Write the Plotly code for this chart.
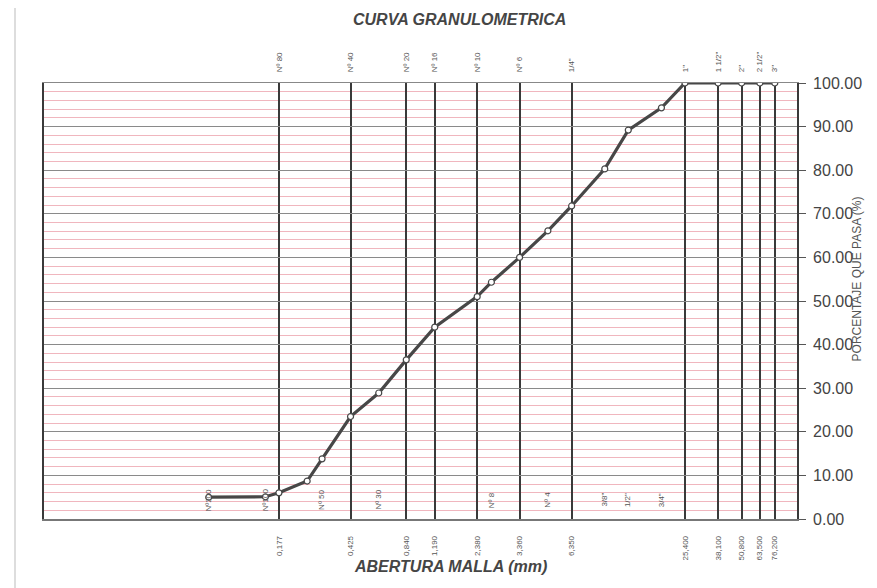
import math
import plotly.graph_objects as go

# ---- data ----
sizes_mm = [0.075, 0.150, 0.177, 0.250, 0.300, 0.425, 0.600, 0.840, 1.190, 2.000, 2.380,
            3.360, 4.750, 6.350, 9.525, 12.700, 19.050, 25.400, 38.100, 50.800, 63.500, 76.200]
passing_pct = [5.0, 5.1, 6.0, 8.7, 13.8, 23.5, 28.9, 36.5, 44.0, 51.0, 54.3,
               60.0, 66.1, 71.8, 80.3, 89.2, 94.3, 100.0, 100.0, 100.0, 100.0, 100.0]

grid_mm = [0.177, 0.425, 0.840, 1.190, 2.000, 3.360, 6.350, 25.400, 38.100, 50.800, 63.500, 76.200]
bottom_text = ["0,177", "0,425", "0,840", "1,190", "2,380", "3,360", "6,350",
               "25,400", "38,100", "50,800", "63,500", "76,200"]
top_text = ["Nº 80", "Nº 40", "Nº 20", "Nº 16", "Nº 10", "Nº 6", '1/4"', '1"',
            '1 1/2"', '2"', '2 1/2"', '3"']
inner_mm = [0.075, 0.150, 0.300, 0.600, 2.380, 4.750, 9.525, 12.700, 19.050]
inner_text = ["Nº200", "Nº100", "Nº 50", "Nº 30", "Nº 8", "Nº 4", '3/8"', '1/2"', '3/4"']
y_ticks = [0, 10, 20, 30, 40, 50, 60, 70, 80, 90, 100]

FONT = "Liberation Sans, Arial, sans-serif"

fig = go.Figure()
fig.add_trace(go.Scatter(
    x=sizes_mm, y=passing_pct, mode="lines+markers",
    line=dict(color="#474747", width=3.2),
    marker=dict(size=6, color="white", line=dict(color="#474747", width=1.2)),
    showlegend=False, hoverinfo="x+y"))
# invisible trace to activate the top axis
fig.add_trace(go.Scatter(x=[grid_mm[0]], y=[0], xaxis="x2", mode="markers",
                         marker=dict(opacity=0), showlegend=False, hoverinfo="skip"))

annots = []
for xm, t in zip(inner_mm, inner_text):
    # annotations on a log axis are positioned in log10 units
    annots.append(dict(x=math.log10(xm), y=4.4, xref="x", yref="y", text=t,
                       showarrow=False, textangle=-90,
                       xanchor="center", yanchor="middle",
                       font=dict(family=FONT, size=8, color="#555")))

annots += [
    dict(text="<b><i>CURVA GRANULOMETRICA</i></b>", xref="paper", yref="paper",
         x=0.552, y=1.145, showarrow=False, xanchor="center", yanchor="middle",
         font=dict(family=FONT, size=16, color="#454545")),
    dict(text="<b><i>ABERTURA MALLA (mm)</i></b>", xref="paper", yref="paper",
         x=0.540, y=-0.110, showarrow=False, xanchor="center", yanchor="middle",
         font=dict(family=FONT, size=16, color="#454545")),
    dict(text="PORCENTAJE QUE PASA (%)", xref="paper", yref="paper",
         x=1.080, y=0.55, showarrow=False, textangle=-90,
         xanchor="center", yanchor="middle",
         font=dict(family=FONT, size=12, color="#555")),
]

fig.update_layout(
    width=869, height=580,
    margin=dict(l=36, r=80, t=75, b=69),
    paper_bgcolor="white", plot_bgcolor="white",
    xaxis=dict(type="log", range=[-2, 2], tickvals=grid_mm, ticktext=bottom_text,
               tickangle=-90, ticks="", ticklabelstandoff=12, automargin=False,
               tickfont=dict(family=FONT, size=8, color="#555"),
               showgrid=True, gridcolor="#3a3a3a", gridwidth=1.6,
               showline=True, linecolor="#777", linewidth=1.5,
               zeroline=False),
    xaxis2=dict(type="log", range=[-2, 2], overlaying="x", side="top",
                tickvals=grid_mm, ticktext=top_text, tickangle=-90, ticks="",
                ticklabelstandoff=8, automargin=False,
                tickfont=dict(family=FONT, size=8, color="#555"),
                showgrid=False, showline=True, linecolor="#888", linewidth=1.2),
    yaxis=dict(range=[0, 100], tickvals=y_ticks, tickformat=".2f", side="right",
               ticks="outside", ticklen=7, tickcolor="#555", tickwidth=1.2,
               ticklabelstandoff=4, automargin=False,
               tickfont=dict(family=FONT, size=16, color="#444"),
               showgrid=True, gridcolor="#8a8a8a", gridwidth=1.3,
               minor=dict(dtick=2, showgrid=True, gridcolor="#f0b6be", gridwidth=1),
               showline=True, linecolor="#3a3a3a", linewidth=1.8, mirror=True,
               zeroline=False),
    annotations=annots,
    shapes=[
        dict(type="line", xref="paper", yref="paper", x0=-0.0385, x1=-0.0385,
             y0=-0.16, y1=1.174, line=dict(color="#bbb", width=1)),
        dict(type="line", xref="paper", yref="paper", x0=-0.0385, x1=1.1,
             y0=1.174, y1=1.174, line=dict(color="#ccc", width=1)),
    ],
)

fig.write_html("out.html")
